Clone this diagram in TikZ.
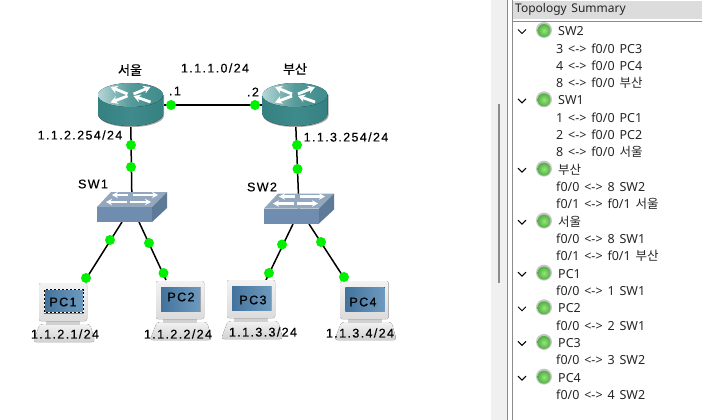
\documentclass[tikz,border=0pt]{standalone}
\usepackage{fontspec}
\usetikzlibrary{arrows.meta,calc}
\setmainfont[WordSpace=1.5]{Noto Sans}
\newfontfamily\krfont{Noto Sans CJK KR}
\newfontfamily\netfont[LetterSpace=11,FakeBold=0.5]{Liberation Sans}
\newfontfamily\netkrfont[FakeBold=0.5]{Noto Sans CJK KR}
\newcommand{\kr}[1]{{\krfont #1}}
\definecolor{tealtop}{HTML}{3F8B8B}
\definecolor{teallight}{HTML}{B4D6D6}
\definecolor{tealdark}{HTML}{358080}
\definecolor{swtop}{HTML}{93A8BE}
\definecolor{swfront}{HTML}{6F8DAF}
\definecolor{swside}{HTML}{5D7A99}
\definecolor{scrblue}{HTML}{4A80AE}
\definecolor{lampgreen}{HTML}{00F000}
\definecolor{panelgray}{HTML}{F0F0F0}
\definecolor{headgray}{HTML}{DCDCDC}
\definecolor{ledlight}{HTML}{98E47C}
\definecolor{leddark}{HTML}{4FB040}
\tikzset{
  wire/.style={line width=1.5pt,black},
  lamp/.style={circle,fill=lampgreen,inner sep=0pt,minimum size=10pt},
  netlabel/.style={font=\netfont\fontsize{12.5}{13}\selectfont,inner sep=0pt},
  netkr/.style={font=\netkrfont\fontsize{13}{14}\selectfont,inner sep=0pt},
  headrow/.style={anchor=west,inner sep=0pt,font=\fontsize{12.5}{13}\selectfont,text=black!85},
  childrow/.style={anchor=west,inner sep=0pt,font=\fontsize{12.5}{13}\selectfont,text=black!85},
  whitearrow/.style={white,line width=2.8pt,-{Stealth[length=7pt,width=8pt]}},
  swarrow/.style={white,line width=2.2pt,-{Stealth[length=6pt,width=6.5pt]}},
  routerpic/.pic={
    \fill[black!35] (-31.5,-10) -- (-31.5,10.5) .. controls (-31.5,17) and (-18,22) .. (1,22) .. controls (19,22) and (33.5,17) .. (33.5,10.5) -- (33.5,-10) -- cycle;
    \fill[left color=tealdark,right color=tealdark,middle color=tealtop] (-32.5,-10) -- (-32.5,9) .. controls (-32.5,15.6) and (-18,21) .. (0,21) .. controls (18,21) and (32.5,15.6) .. (32.5,9) -- (32.5,-10) -- cycle;
    \fill[left color=teallight,right color=tealtop,middle color=tealtop!80!teallight] (0,-10) ellipse [x radius=32.5,y radius=12];
    \draw[whitearrow] (-3,-11) -- (-20,-18); \draw[whitearrow] (3,-11) -- (20,-18);
    \draw[whitearrow] (20,-3) -- (3,-9); \draw[whitearrow] (-3,-9) -- (-20,-2.5);
  },
  switchpic/.pic={
    \fill[swtop] (-21,-15) -- (35,-15) -- (20,0) -- (-35,0) -- cycle;
    \fill[swfront] (-35,0) rectangle (20,15);
    \fill[swside] (20,0) -- (35,-15) -- (35,1) -- (20,15) -- cycle;
    \draw[swarrow] (-4,-12) -- (-20,-12); \draw[swarrow] (1,-12) -- (26,-12);
    \draw[swarrow] (-5,-5) -- (-26,-5); \draw[swarrow] (-2,-5) -- (19,-5);
  },
  pcpic/.pic={
    \fill[top color=black!5,bottom color=black!18,rounded corners=3pt] (-23,22) -- (27,22) -- (32,40) -- (-30,40) -- cycle;
    \fill[black!18] (-17,19) rectangle (17,23);
    \fill[top color=black!5,bottom color=black!14,rounded corners=2pt] (-24,-19) rectangle (24,19);
    \fill[black!35] (-19.5,-13.5) rectangle (20.5,11.5);
    \fill[left color=scrblue!90!black,right color=scrblue!80!white] (-19,-13) rectangle (20,11);
  }
}
\begin{document}
\begin{tikzpicture}[x=1pt,y=-1pt]
\useasboundingbox (0,0) rectangle (702,420);
\fill[white] (0,0) rectangle (702,420);
\coordinate (SEOUL) at (130.5,105); \coordinate (BUSAN) at (295,105);
\coordinate (SW1) at (132,207); \coordinate (SW2) at (299,208.5);
\coordinate (PC1) at (63,302); \coordinate (PC2) at (180,300); \coordinate (PC3) at (251,299); \coordinate (PC4) at (364.5,300);
\coordinate (PC1port) at (86,279); \coordinate (PC2port) at (166,280); \coordinate (PC3port) at (266,280); \coordinate (PC4port) at (346,281);
\coordinate (SW1a) at (122,222); \coordinate (SW1b) at (139,222); \coordinate (SW2a) at (293,224); \coordinate (SW2b) at (309,224);
% links
\draw[wire] (SEOUL) -- (BUSAN);
\draw[wire] (SEOUL) -- (SW1); \draw[wire] (BUSAN) -- (SW2);
\draw[wire] (SW1a) -- (PC1port); \draw[wire] (SW1b) -- (PC2port);
\draw[wire] (SW2a) -- (PC3port); \draw[wire] (SW2b) -- (PC4port);
% devices
\pic at (SEOUL) {routerpic}; \pic at (BUSAN) {routerpic};
\pic at (SW1) {switchpic}; \pic at (SW2) {switchpic};
\pic at (PC1) {pcpic}; \pic at (PC2) {pcpic}; \pic at (PC3) {pcpic}; \pic at (PC4) {pcpic};
\draw[white,line width=.7pt] (44.5,289.5) rectangle (83,312.5);
\draw[black,line width=.7pt,dashed,dash pattern=on 2pt off 2pt] (44.5,289.5) rectangle (83,312.5);
% lamps
\foreach \lampname/\lampx/\lampy in {a/171/105,b/131/145,c/131/167,d/255/105,e/297/145,f/297.5/169,g/110/240,h/86/278,i/149/243,j/163.5/273,k/282/244.5,l/269/273,m/321/242,n/344/277}
  \node[lamp] (lamp\lampname) at (\lampx,\lampy) {};
% labels
\node[netkr] (seoullabel) at (130,70) {서울};
\node[netkr] (busanlabel) at (295,69) {부산};
\node[netlabel] (linknet) at (215,68) {1.1.1.0/24};
\node[netlabel] (dotone) at (175,91) {.1};
\node[netlabel] (dottwo) at (253,92) {.2};
\node[netlabel] (seoulip) at (80,135) {1.1.2.254/24};
\node[netlabel] (busanip) at (346,137) {1.1.3.254/24};
\node[netlabel] (sw1label) at (93,184) {SW1};
\node[netlabel] (sw2label) at (262,187) {SW2};
\node[netlabel] (pc1label) at (63,302) {PC1};
\node[netlabel] (pc2label) at (181,297) {PC2};
\node[netlabel] (pc3label) at (253,300) {PC3};
\node[netlabel] (pc4label) at (363,302) {PC4};
\node[netlabel] (pc1ip) at (65,334) {1.1.2.1/24};
\node[netlabel] (pc2ip) at (178,334) {1.1.2.2/24};
\node[netlabel] (pc3ip) at (263,332) {1.1.3.3/24};
\node[netlabel] (pc4ip) at (360,333) {1.1.3.4/24};
% summary panel
\fill[panelgray] (491,0) rectangle (507,420);
\fill[black!45] (498,104) rectangle (500,283);
\draw[black!45] (507.5,0) -- (507.5,420);
\fill[headgray] (513,1) rectangle (702,19);
\draw[black!45] (512.5,0) -- (512.5,420);
\draw[black!45] (512.5,21.5) -- (702,21.5);
\node[anchor=west,inner sep=0pt,font=\fontsize{12}{13}\selectfont,text=black!85] (paneltitle) at (515,9.5) {Topology Summary};
\foreach \rowno/\rowtext in {0/SW2,4/SW1,8/\kr{부산},11/\kr{서울},14/PC1,16/PC2,18/PC3,20/PC4}{
  \node[headrow] (row\rowno) at (558,31+17.33*\rowno) {\rowtext};
  \draw[black,line width=1pt] (518,{31+17.33*\rowno-1.5}) -- (522,{31+17.33*\rowno+2.5}) -- (526,{31+17.33*\rowno-1.5});
  \fill[black!22] (544,{31+17.33*\rowno-1}) circle (8);
  \shade[inner color=ledlight,outer color=leddark] (544,{31+17.33*\rowno-.5}) circle (6.5);
}
\foreach \rowno/\rowtext in {1/{3 <-> f0/0 PC3},2/{4 <-> f0/0 PC4},3/{8 <-> f0/0 \kr{부산}},5/{1 <-> f0/0 PC1},6/{2 <-> f0/0 PC2},7/{8 <-> f0/0 \kr{서울}},9/{f0/0 <-> 8 SW2},10/{f0/1 <-> f0/1 \kr{서울}},12/{f0/0 <-> 8 SW1},13/{f0/1 <-> f0/1 \kr{부산}},15/{f0/0 <-> 1 SW1},17/{f0/0 <-> 2 SW1},19/{f0/0 <-> 3 SW2},21/{f0/0 <-> 4 SW2}}
  \node[childrow] (row\rowno) at (556,31+17.33*\rowno) {\rowtext};
\end{tikzpicture}
\end{document}
